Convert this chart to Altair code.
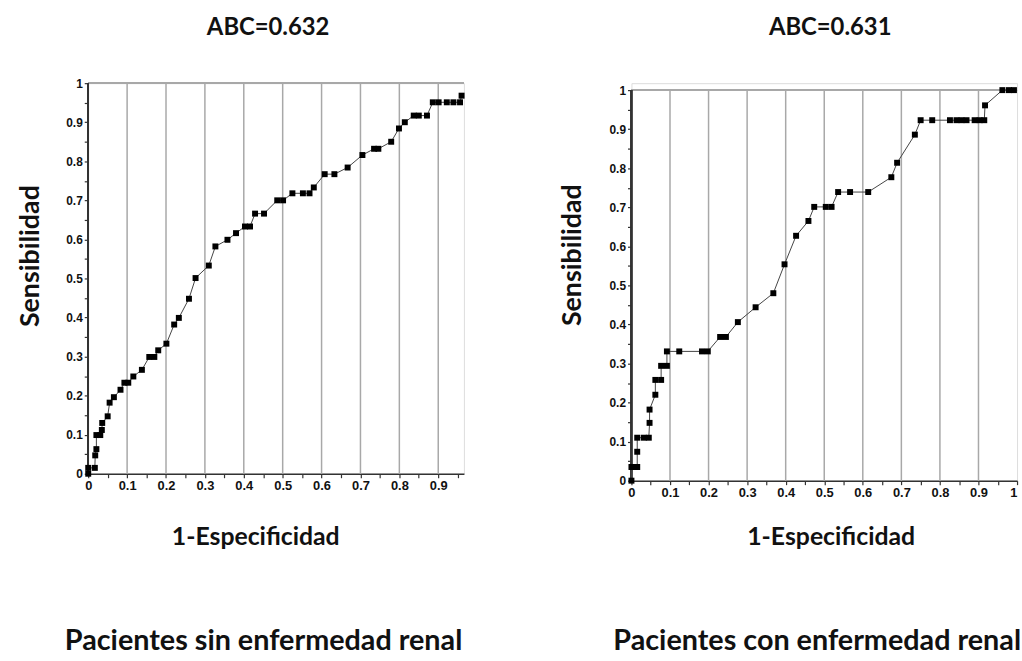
import altair as alt
import pandas as pd

# ---- data ----
LEFT_FPR = [0, 0, 0.017, 0.018, 0.021, 0.021, 0.031, 0.035, 0.036, 0.05, 0.055, 0.066, 0.083,
            0.093, 0.103, 0.116, 0.138, 0.157, 0.17, 0.18, 0.201, 0.221, 0.233, 0.259, 0.276,
            0.31, 0.327, 0.358, 0.38, 0.403, 0.416, 0.429, 0.452, 0.486, 0.501, 0.525, 0.552,
            0.569, 0.58, 0.608, 0.633, 0.667, 0.705, 0.735, 0.746, 0.779, 0.799, 0.814, 0.837,
            0.85, 0.871, 0.886, 0.901, 0.922, 0.939, 0.956, 0.96]
LEFT_TPR = [0, 0.015, 0.015, 0.047, 0.063, 0.099, 0.099, 0.112, 0.13, 0.147, 0.182, 0.196, 0.215,
            0.233, 0.233, 0.249, 0.266, 0.299, 0.299, 0.316, 0.333, 0.382, 0.399, 0.448, 0.501,
            0.533, 0.582, 0.599, 0.616, 0.633, 0.633, 0.666, 0.666, 0.7, 0.7, 0.718, 0.718,
            0.718, 0.733, 0.767, 0.767, 0.784, 0.816, 0.832, 0.832, 0.85, 0.884, 0.9, 0.917,
            0.917, 0.917, 0.951, 0.951, 0.951, 0.951, 0.951, 0.968]

RIGHT_FPR = [0, 0, 0.008, 0.015, 0.015, 0.015, 0.032, 0.045, 0.047, 0.047, 0.062, 0.062, 0.077,
             0.077, 0.092, 0.092, 0.124, 0.183, 0.198, 0.23, 0.245, 0.276, 0.322, 0.368, 0.397,
             0.427, 0.459, 0.474, 0.504, 0.519, 0.536, 0.567, 0.614, 0.674, 0.689, 0.735, 0.75,
             0.78, 0.826, 0.843, 0.856, 0.869, 0.89, 0.903, 0.915, 0.917, 0.962, 0.979, 0.992]
RIGHT_TPR = [0, 0.035, 0.035, 0.035, 0.074, 0.11, 0.11, 0.11, 0.148, 0.182, 0.22, 0.258, 0.258,
             0.294, 0.294, 0.331, 0.331, 0.331, 0.331, 0.368, 0.368, 0.406, 0.444, 0.48, 0.554,
             0.627, 0.665, 0.701, 0.701, 0.701, 0.739, 0.739, 0.739, 0.777, 0.814, 0.886, 0.923,
             0.923, 0.923, 0.923, 0.923, 0.923, 0.923, 0.923, 0.923, 0.961, 1, 1, 1]

TICKS_X_LEFT = [0, 0.05, 0.1, 0.15, 0.2, 0.25, 0.3, 0.35, 0.4, 0.45, 0.5, 0.55, 0.6, 0.65,
                0.7, 0.75, 0.8, 0.85, 0.9, 0.95]
TICKS_X_RIGHT = TICKS_X_LEFT + [1]
TICKS_Y = TICKS_X_RIGHT
GRID_X = [0.1, 0.2, 0.3, 0.4, 0.5, 0.6, 0.7, 0.8, 0.9]

TITLES_TOP = ["ABC=0.632", "ABC=0.631"]
TITLES_BOTTOM = ["Pacientes sin enfermedad renal", "Pacientes con enfermedad renal"]
X_TITLE = "1-Especificidad"
Y_TITLE = "Sensibilidad"

TITLE_FONT = "Lato"
LABEL_EXPR = ("abs(datum.value*10 - round(datum.value*10)) < 0.001 ? "
              "format(datum.value, '~g') : ''")


def panel(fpr, tpr, xmax, ymax, ticks_x, width, height, top_title, bottom_title,
          title_offset, title_dx, bottom_dx, x_title_x, x_title_y, y_title_x, y_title_y):
    df = pd.DataFrame({"fpr": fpr, "tpr": tpr, "i": list(range(len(fpr)))})
    grid_df = pd.DataFrame({"g": GRID_X})
    xs = alt.Scale(domain=[0, xmax], nice=False, zero=False)
    ys = alt.Scale(domain=[0, ymax], nice=False, zero=False)

    common = dict(labelExpr=LABEL_EXPR, grid=False, titleAlign="center",
                  titleBaseline="middle", titleFont=TITLE_FONT,
                  titleFontWeight="bold", titleColor="#111",
                  labelFont="Liberation Sans", labelFontWeight="bold",
                  labelColor="#111", tickSize=4, tickColor="#333", tickWidth=1.2,
                  labelPadding=2, labelOverlap=False)
    x_axis = alt.Axis(values=ticks_x, title=X_TITLE, titleX=x_title_x, titleY=x_title_y,
                      titleFontSize=25, domainColor="#333", domainWidth=1.5,
                      labelFontSize=13,
                      labelAlign={"expr": "datum.value >= 1 ? 'right' : 'center'"},
                      **common)
    y_axis = alt.Axis(values=TICKS_Y, title=Y_TITLE, titleX=y_title_x, titleY=y_title_y,
                      titleAngle=270, titleFontSize=27, domain=False, labelFontSize=12,
                      **common)

    X = lambda f: alt.X(f, scale=xs, axis=x_axis)
    Y = lambda f: alt.Y(f, scale=ys, axis=y_axis)

    grid = alt.Chart(grid_df).mark_rule(color="#a8a8a8", strokeWidth=1.5).encode(
        x=X("g:Q"), y=alt.datum(0, scale=ys, axis=y_axis), y2=alt.datum(1))
    top = alt.Chart(grid_df).mark_rule(color="#a8a8a8", strokeWidth=1.5).encode(
        y=alt.datum(1, scale=ys, axis=y_axis))
    yline = alt.Chart(grid_df).mark_rule(color="#333", strokeWidth=1.5).encode(
        x=alt.datum(0, scale=xs, axis=x_axis), y=alt.datum(0, scale=ys, axis=y_axis),
        y2=alt.datum(1))
    line = alt.Chart(df).mark_line(color="#444", strokeWidth=1).encode(
        x=X("fpr:Q"), y=Y("tpr:Q"), order="i:Q")
    pts = alt.Chart(df).mark_square(color="#000", size=36, opacity=1).encode(
        x=X("fpr:Q"), y=Y("tpr:Q"))

    layer = alt.layer(grid, top, yline, line, pts).properties(
        width=width, height=height,
        title=alt.TitleParams(top_title, font=TITLE_FONT, fontSize=24, fontWeight="bold",
                              color="#111", offset=title_offset, anchor="middle",
                              dx=title_dx))
    return alt.vconcat(layer).properties(
        title=alt.TitleParams(bottom_title, orient="bottom", font=TITLE_FONT, fontSize=29,
                              fontWeight="bold", color="#111", offset=78, anchor="middle",
                              dx=bottom_dx))


left = panel(LEFT_FPR, LEFT_TPR, 0.966, 1.0, TICKS_X_LEFT, 379, 394,
             TITLES_TOP[0], TITLES_BOTTOM[0], 38, -8, 23,
             168.5, 63, -58, 174)
right = panel(RIGHT_FPR, RIGHT_TPR, 1.0, 1.0178, TICKS_X_RIGHT, 389, 401,
              TITLES_TOP[1], TITLES_BOTTOM[1], 44, 6, 29,
              201, 56, -59, 173)

chart = alt.hconcat(left, right, spacing=93).properties(
    padding={"left": 16, "top": 12, "right": 0, "bottom": 0}
).configure_view(stroke=None).configure(background="white")

chart.save("out.html", embed_options={"renderer": "svg", "actions": False})
